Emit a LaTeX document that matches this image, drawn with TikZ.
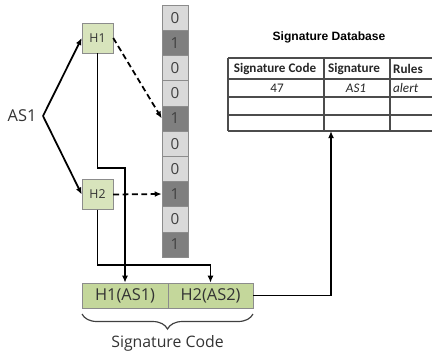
\documentclass[tikz,border=0pt]{standalone}
\usepackage{fontspec}
\setmainfont{Open Sans}
\newfontfamily\tabfont{Carlito}
\newfontfamily\headfont{Liberation Sans}
\usetikzlibrary{arrows.meta,decorations.pathreplacing}
\definecolor{hashgreen}{HTML}{D8E4BC}
\definecolor{codegreen}{HTML}{C4D79B}
\definecolor{bitlight}{HTML}{D9D9D9}
\definecolor{bitdark}{HTML}{7F7F7F}
\definecolor{boxline}{HTML}{8C8C8C}
\begin{document}
\begin{tikzpicture}[x=0.03cm,y=-0.03cm,>={Latex[length=6pt,width=5pt]}]
    \tikzset{
    hash node/.style={draw=boxline,fill=hashgreen,minimum width=0.93cm,minimum height=0.9cm,inner sep=0,text=black!80,font=\fontsize{10.5}{12}\selectfont},
    bit node/.style={draw=boxline,minimum width=0.78cm,minimum height=0.756cm,inner sep=0,text=black!75,font=\fontsize{13}{15}\selectfont},
    code node/.style={draw=boxline,fill=codegreen,minimum height=0.75cm,inner sep=0,text=black!80,font=\fontsize{14}{16}\selectfont},
    flow/.style={->,line width=1.5pt},
    hint/.style={->,line width=1.5pt,dashed,dash pattern=on 5pt off 3pt},
    tab text/.style={inner sep=0,text=black!85,font=\tabfont\fontsize{11.2}{13}\selectfont},
    tab head/.style={tab text,font=\tabfont\bfseries\fontsize{11.2}{13}\selectfont},
    tab line/.style={line width=0.9pt,black!70}
    }
    \useasboundingbox (0,0) rectangle (432,356);

    % input and hashes
    \node[inner sep=0,text=black!80,font=\fontsize{14}{16}\selectfont] (as1) at (22,116) {AS1};
    \coordinate (split) at (43,116);
    \node[hash node] (h1) at (97.5,38) {H1};
    \node[hash node] (h2) at (97.5,194.5) {H2};
    \draw[flow] (split) -- (h1.west);
    \draw[flow] (split) -- (h2.west);

    % bit array
    \foreach \v [count=\i] in {0,1,0,0,1,0,0,1,0,1}{
        \ifnum\v=1 \def\bitfill{bitdark}\else\def\bitfill{bitlight}\fi
        \node[bit node,fill=\bitfill] (bit\i) at (175,{5+25.2*(\i-0.5)}) {\v};
    }
    \draw[hint] (h1.east) -- (bit5.west);
    \draw[hint] (h2.east) -- (bit8.west);

    % signature code
    \node[code node,minimum width=2.58cm] (c1) at (125,295.5) {H1(AS1)};
    \node[code node,minimum width=2.55cm] (c2) at (210.5,295.5) {H2(AS2)};
    \draw[flow] (h1.south) -- ++(0,115) -| (c1.north);
    \draw[flow] (h2.south) -- ++(0,55) -| (c2.north);
    \draw[line width=1pt,black!75,decorate,decoration={brace,mirror,amplitude=0.45cm}] (82,314) -- (253,314);
    \node[inner sep=0,text=black!80,font=\fontsize{13.5}{16}\selectfont] (sigcode) at (167.5,343) {Signature Code};

    % signature database
    \node[inner sep=0,font=\headfont\bfseries\fontsize{10.3}{12}\selectfont] (dbtitle) at (329,37) {Signature Database};
    \draw[tab line] (228,58) -- (432,58);
    \draw[tab line,line width=1.6pt] (228,79) -- (432,79);
    \draw[tab line] (228,97) -- (432,97);
    \draw[tab line] (228,115) -- (432,115);
    \draw[tab line] (228,131) -- (432,131);
    \draw[tab line] (228,58) -- (228,131);
    \draw[tab line] (324,58) -- (324,131);
    \draw[tab line] (390,58) -- (390,131);
    \node[tab head] (hcode) at (275,69) {Signature Code};
    \node[tab head] (hsig) at (354,69) {Signature};
    \node[tab head,anchor=west] (hrules) at (393,69) {Rules};
    \node[tab text] (vcode) at (277,88) {47};
    \node[tab text,font=\tabfont\itshape\fontsize{11.2}{13}\selectfont] (vsig) at (356,88) {AS1};
    \node[tab text,font=\tabfont\itshape\fontsize{11.2}{13}\selectfont,anchor=west] (vrules) at (393,88) {alert};
    \coordinate (dbase) at (331,131);
    \draw[flow] (c2.east) -| (dbase);
\end{tikzpicture}
\end{document}
